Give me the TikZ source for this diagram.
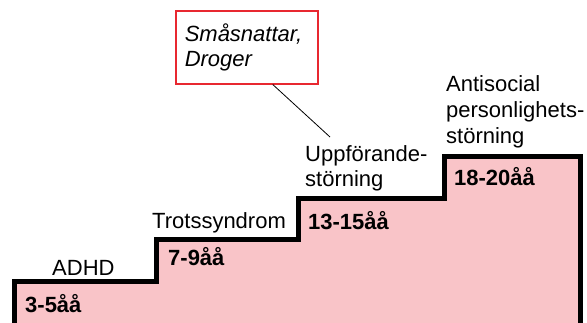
\documentclass[tikz,border=0pt]{standalone}
\usepackage{fontspec}
\setmainfont{Liberation Sans}
\begin{document}
\begin{tikzpicture}[x=1pt,y=-1pt,
  stair/.style={fill=stairpink,draw=black,line width=5pt,line join=miter},
  stage/.style={font=\fontsize{22}{26}\selectfont,anchor=base west,inner sep=0pt,align=left},
  age/.style={font=\fontsize{22}{26}\selectfont\bfseries,anchor=base west,inner sep=0pt},
  notebox/.style={draw=notered,line width=1.5pt,fill=white,anchor=north west,
    minimum width=142pt,minimum height=73pt,inner xsep=9pt,text width=124pt,
    align=left,font=\fontsize{22}{25}\selectfont\itshape}
]
\definecolor{stairpink}{RGB}{249,196,200}
\definecolor{notered}{RGB}{232,40,48}
\useasboundingbox (0,0) rectangle (587,322);
\begin{scope}
  \clip (0,0) rectangle (587,322);
  % the staircase of ages
  \path[stair] (14.5,340) -- (14.5,281) -- (156,281) -- (156,239.5) -- (298.5,239.5)
    -- (298.5,198) -- (444.5,198) -- (444.5,156) -- (580.5,156) -- (580.5,340);
\end{scope}

% age ranges on the steps
\node[age] (a1) at (25,312) {3-5åå};
\node[age] (a2) at (168,265) {7-9åå};
\node[age] (a3) at (308,229) {13-15åå};
\node[age] (a4) at (454,185) {18-20åå};

% diagnoses above the steps (base anchor sits on the last line)
\node[stage] (s1) at (52,275) {ADHD};
\node[stage] (s2) at (152,228) {Trotssyndrom};
\node[stage,font=\fontsize{22}{25}\selectfont] (s3) at (305,186) {Uppförande-\\störning};
\node[stage] (s4) at (446,143) {Antisocial\\personlighets-\\störning};

% note with its pointer
\node[notebox] (note) at (175,10) {Småsnattar,\\Droger};
\coordinate (tip) at (330,137);
\draw[line width=0.8pt] ([xshift=26pt]note.south) -- (tip);
\end{tikzpicture}
\end{document}
